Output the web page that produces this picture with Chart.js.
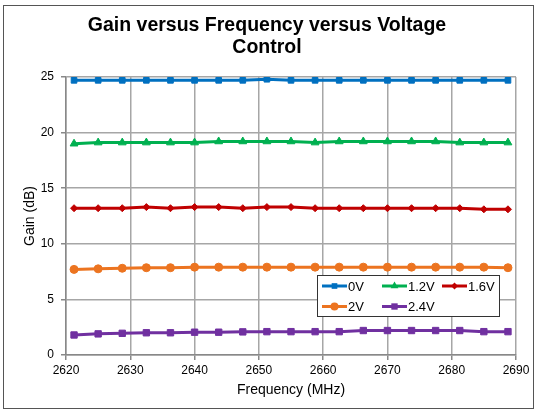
<!DOCTYPE html>
<html>
<head>
<meta charset="utf-8">
<script src="https://cdn.jsdelivr.net/npm/chart.js@4"></script>
<style>
  html, body { margin: 0; padding: 0; background: #fff; }
  #wrap { width: 539px; height: 411px; position: relative; }
</style>
</head>
<body>
<div id="wrap"><canvas id="chart"></canvas></div>
<script>
const titleLines = ['Gain versus Frequency versus Voltage', 'Control'];
const freqs = [2621.25, 2625, 2628.75, 2632.5, 2636.25, 2640, 2643.75, 2647.5, 2651.25, 2655,
               2658.75, 2662.5, 2666.25, 2670, 2673.75, 2677.5, 2681.25, 2685, 2688.75];
const seriesNames = ['0V', '1.2V', '1.6V', '2V', '2.4V'];
const gain0V  = [24.7, 24.7, 24.7, 24.7, 24.7, 24.7, 24.7, 24.7, 24.8, 24.7,
                 24.7, 24.7, 24.7, 24.7, 24.7, 24.7, 24.7, 24.7, 24.7];
const gain12V = [19.0, 19.1, 19.1, 19.1, 19.1, 19.1, 19.2, 19.2, 19.2, 19.2,
                 19.1, 19.2, 19.2, 19.2, 19.2, 19.2, 19.1, 19.1, 19.1];
const gain16V = [13.2, 13.2, 13.2, 13.3, 13.2, 13.3, 13.3, 13.2, 13.3, 13.3,
                 13.2, 13.2, 13.2, 13.2, 13.2, 13.2, 13.2, 13.1, 13.1];
const gain2V  = [7.7, 7.75, 7.8, 7.85, 7.85, 7.9, 7.9, 7.9, 7.9, 7.9,
                 7.9, 7.9, 7.9, 7.9, 7.9, 7.9, 7.9, 7.9, 7.85];
const gain24V = [1.8, 1.9, 1.95, 2.0, 2.0, 2.05, 2.05, 2.08, 2.1, 2.1,
                 2.1, 2.1, 2.2, 2.2, 2.2, 2.2, 2.2, 2.1, 2.1];
const xTicks = [2620, 2630, 2640, 2650, 2660, 2670, 2680, 2690];
const yTicks = [0, 5, 10, 15, 20, 25];

const FONT = '"Liberation Sans", Arial, sans-serif';
const colors = ['#0070C0', '#00B050', '#C00000', '#EC7420', '#7030A0'];
const shapes = ['rect', 'triangle', 'rectRot', 'circle', 'rect'];
const radii = [4, 4.5, 3.5, 4, 4.5];
const allGain = [gain0V, gain12V, gain16V, gain2V, gain24V];

const datasets = seriesNames.map((name, i) => ({
    label: name,
    data: freqs.map((f, j) => ({ x: f, y: allGain[i][j] })),
    borderColor: colors[i],
    backgroundColor: colors[i],
    borderWidth: 3,
    pointStyle: shapes[i],
    pointRadius: radii[i],
    pointBorderWidth: 1,
    tension: 0
}));

// frame, two-line title and the inset legend
const decor = {
    id: 'decor',
    beforeDraw(chart) {
        const ctx = chart.ctx;
        ctx.save();
        ctx.fillStyle = '#fff';
        ctx.fillRect(0, 0, chart.width, chart.height);
        ctx.strokeStyle = '#555';
        ctx.lineWidth = 1;
        ctx.strokeRect(3.5, 5.5, 530, 403);
        ctx.fillStyle = '#000';
        ctx.font = 'bold 19.5px ' + FONT;
        ctx.textAlign = 'center';
        ctx.textBaseline = 'middle';
        titleLines.forEach((t, i) => ctx.fillText(t, 267, 26 + i * 22));
        ctx.restore();
    },
    afterDraw(chart) {
        const ctx = chart.ctx;
        ctx.save();
        const bx = 317, by = 275, bw = 182, bh = 41;
        ctx.fillStyle = '#fff';
        ctx.fillRect(bx, by, bw, bh);
        ctx.strokeStyle = '#333';
        ctx.lineWidth = 1;
        ctx.strokeRect(bx + 0.5, by + 0.5, bw, bh);
        ctx.font = '13px ' + FONT;
        ctx.textBaseline = 'middle';
        ctx.textAlign = 'left';
        chart.data.datasets.forEach((ds, i) => {
            const col = i % 3, row = Math.floor(i / 3);
            const x = bx + 5 + col * 60;
            const y = by + 11 + row * 20.5;
            ctx.strokeStyle = ds.borderColor;
            ctx.lineWidth = 3;
            ctx.beginPath();
            ctx.moveTo(x, y);
            ctx.lineTo(x + 25, y);
            ctx.stroke();
            ctx.fillStyle = ds.backgroundColor;
            Chart.helpers.drawPoint(ctx, {
                pointStyle: ds.pointStyle,
                radius: ds.pointRadius,
                borderWidth: 0
            }, x + 12.5, y);
            ctx.fillStyle = '#000';
            ctx.fillText(ds.label, x + 26, y + 1);
        });
        ctx.restore();
    }
};

new Chart(document.getElementById('chart'), {
    type: 'line',
    data: { datasets: datasets },
    options: {
        responsive: true,
        maintainAspectRatio: false,
        animation: false,
        layout: { padding: { left: 17, right: 23, top: 77, bottom: 0 } },
        plugins: {
            legend: { display: false },
            title: { display: false },
            tooltip: { enabled: false }
        },
        scales: {
            x: {
                type: 'linear',
                min: 2620,
                max: 2690,
                afterBuildTicks: (s) => { s.ticks = xTicks.map(v => ({ value: v })); },
                afterFit: (s) => { s.height = 56; },
                grid: { color: '#a6a6a6', lineWidth: 1.5, tickLength: 5, tickColor: '#888' },
                border: { color: '#888', width: 1.5 },
                ticks: {
                    color: '#000', padding: 3, maxRotation: 0,
                    font: { family: FONT, size: 12 },
                    callback: (v) => String(v)
                },
                title: {
                    display: true,
                    text: 'Frequency (MHz)',
                    color: '#000',
                    font: { family: FONT, size: 14 },
                    padding: { top: 4, bottom: 12 }
                }
            },
            y: {
                min: 0,
                max: 25,
                afterBuildTicks: (s) => { s.ticks = yTicks.map(v => ({ value: v })); },
                afterFit: (s) => { s.width = 49; },
                grid: { color: '#a6a6a6', lineWidth: 1.5, tickLength: 5, tickColor: '#888' },
                border: { color: '#888', width: 1.5 },
                ticks: {
                    color: '#000', padding: 7,
                    font: { family: FONT, size: 12 },
                    callback: (v) => String(v)
                },
                title: {
                    display: true,
                    text: 'Gain (dB)',
                    color: '#000',
                    font: { family: FONT, size: 14 },
                    padding: { top: 5, bottom: 4 }
                }
            }
        }
    },
    plugins: [decor]
});
</script>
</body>
</html>
